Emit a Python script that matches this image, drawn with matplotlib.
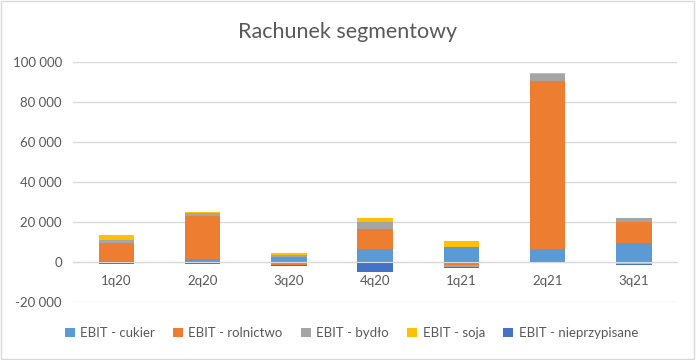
import matplotlib.pyplot as plt
import numpy as np
from matplotlib.patches import Rectangle
from matplotlib.ticker import FuncFormatter

quarters = ["1q20", "2q20", "3q20", "4q20", "1q21", "2q21", "3q21"]
cukier = [300, 1500, 2500, 6300, 7500, 6600, 9500]
rolnictwo = [9000, 21500, -1700, 10200, -1700, 84000, 10700]
bydlo = [1500, 1300, 800, 3500, -800, 3500, 1800]
soja = [2500, 700, 1200, 2000, 3000, 500, -1000]
nieprzypisane = [-1200, -1200, -500, -4800, -700, -500, -600]

series = [
    ("EBIT - cukier", cukier, "#5B9BD5"),
    ("EBIT - rolnictwo", rolnictwo, "#ED7D31"),
    ("EBIT - bydło", bydlo, "#A5A5A5"),
    ("EBIT - soja", soja, "#FFC000"),
    ("EBIT - nieprzypisane", nieprzypisane, "#4472C4"),
]

plt.rcParams['font.family'] = ['Lato', 'DejaVu Sans']

fig = plt.figure(figsize=(6.96, 3.6), dpi=100)
ax = fig.add_axes([0.105, 0.161, 0.868, 0.667])

x = np.arange(len(quarters))
pos_base = np.zeros(len(quarters))
neg_base = np.zeros(len(quarters))
for name, vals, color in series:
    vals = np.array(vals, dtype=float)
    bottoms = np.where(vals >= 0, pos_base, neg_base)
    ax.bar(x, vals, 0.41, bottom=bottoms, color=color, label=name, zorder=3)
    pos_base += np.where(vals >= 0, vals, 0)
    neg_base += np.where(vals < 0, vals, 0)

ax.set_xlim(-0.5, len(quarters) - 0.5)
ax.set_ylim(-20000, 100000)
ax.set_yticks(range(-20000, 100001, 20000))
ax.yaxis.set_major_formatter(FuncFormatter(lambda v, p: f"{int(v):,}".replace(",", " ")))
ax.set_xticks(x)
ax.set_xticklabels(quarters)
ax.grid(axis="y", color="#D9D9D9", linewidth=1, zorder=0)
for s in ["top", "right", "left"]:
    ax.spines[s].set_visible(False)
ax.spines["bottom"].set_position(("data", 0))
ax.spines["bottom"].set_color("#D9D9D9")
ax.spines["bottom"].set_zorder(4)
ax.tick_params(axis="both", length=0, labelsize=9.5, labelcolor="#595959")
ax.tick_params(axis="x", pad=9)
ax.tick_params(axis="y", pad=8)

fig.suptitle("Rachunek segmentowy", y=0.94, fontsize=15.5, color="#595959")

fig.legend(loc="lower center", ncol=5, frameon=False, fontsize=9.5,
           bbox_to_anchor=(0.505, 0.025), handlelength=0.75, handleheight=0.75,
           handletextpad=0.4, columnspacing=1.4, labelcolor="#595959")

fig.patches.append(Rectangle((0.002, 0.003), 0.995, 0.994, transform=fig.transFigure,
                             fill=False, edgecolor="#D9D9D9", linewidth=1))

fig.savefig("out.png", dpi=100)
